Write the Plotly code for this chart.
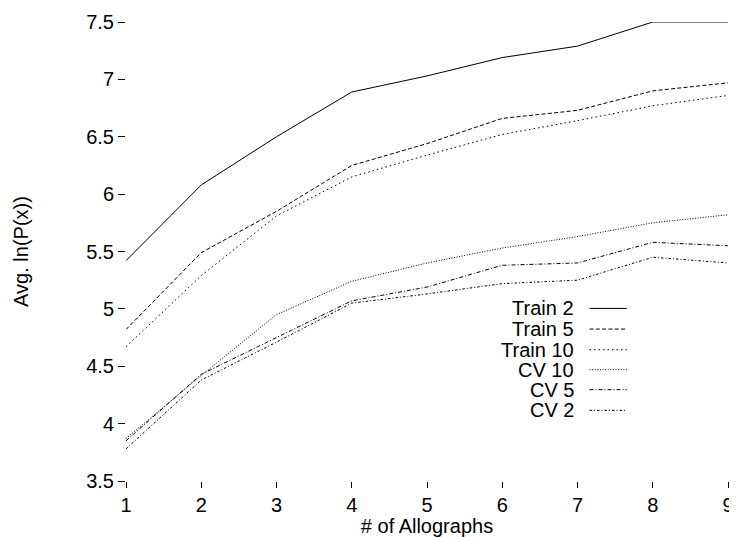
import plotly.graph_objects as go

allographs = [1, 2, 3, 4, 5, 6, 7, 8, 9]
train2 = [5.42, 6.08, 6.50, 6.89, 7.03, 7.19, 7.29, 7.50, 7.50]
train5 = [4.82, 5.49, 5.85, 6.25, 6.44, 6.66, 6.73, 6.90, 6.97]
train10 = [4.67, 5.29, 5.81, 6.15, 6.34, 6.52, 6.64, 6.77, 6.86]
cv10 = [3.87, 4.42, 4.95, 5.24, 5.40, 5.53, 5.63, 5.75, 5.82]
cv5 = [3.85, 4.43, 4.75, 5.07, 5.19, 5.38, 5.40, 5.58, 5.55]
cv2 = [3.78, 4.38, 4.71, 5.05, 5.13, 5.22, 5.25, 5.45, 5.40]

series_names = ["Train 2", "Train 5", "Train 10", "CV 10", "CV 5", "CV 2"]
series_values = [train2, train5, train10, cv10, cv5, cv2]
dashes = ["solid", "4px,2.3px", "1.5px,3px", "1px,1.6px", "4px,2px,1px,2px", "2.5px,2px,1px,2px"]

x_ticks = [1, 2, 3, 4, 5, 6, 7, 8, 9]
y_ticks = [3.5, 4, 4.5, 5, 5.5, 6, 6.5, 7, 7.5]
y_tick_labels = ["3.5", "4", "4.5", "5", "5.5", "6", "6.5", "7", "7.5"]

FONT = "Liberation Sans, Arial, sans-serif"

fig = go.Figure()
for name, vals, d in zip(series_names, series_values, dashes):
    fig.add_trace(go.Scatter(x=allographs, y=vals, mode="lines", name=name,
                             line=dict(color="black", width=1, dash=d),
                             showlegend=False, hoverinfo="skip"))

# Manual legend: text on the left, line sample on the right
leg_y = [0.376, 0.331, 0.286, 0.2425, 0.199, 0.154]
for name, d, yy in zip(series_names, dashes, leg_y):
    fig.add_annotation(x=0.7467, y=yy, xref="paper", yref="paper", text=name,
                       showarrow=False, xanchor="right", yanchor="middle",
                       font=dict(family=FONT, size=20, color="black"))
    fig.add_shape(type="line", xref="paper", yref="paper",
                  x0=0.770, x1=0.832, y0=yy, y1=yy,
                  line=dict(color="black", width=1, dash=d))

# page body has an 8px default margin, so the figure is offset by 8px
fig.update_layout(
    width=729, height=529,
    margin=dict(l=118, r=3, t=11, b=50),
    paper_bgcolor="white", plot_bgcolor="white",
    font=dict(family=FONT, size=20, color="black"),
    showlegend=False,
)
fig.update_xaxes(range=[1, 9], tickvals=x_ticks, ticks="outside", ticklen=6,
                 tickcolor="black", tickwidth=1, showgrid=False, zeroline=False,
                 showline=False, ticklabeloverflow="allow",
                 title=dict(text="# of Allographs", standoff=4, font=dict(size=20)),
                 tickfont=dict(size=20))
fig.update_yaxes(range=[3.5, 7.5], tickvals=y_ticks, ticktext=y_tick_labels,
                 ticks="outside", ticklen=7, tickcolor="black", tickwidth=1,
                 showgrid=False, zeroline=False, showline=False,
                 title=dict(text="Avg. ln(P(x))", standoff=52, font=dict(size=20)),
                 tickfont=dict(size=20))

fig.write_html("out.html", config={"displayModeBar": False})
